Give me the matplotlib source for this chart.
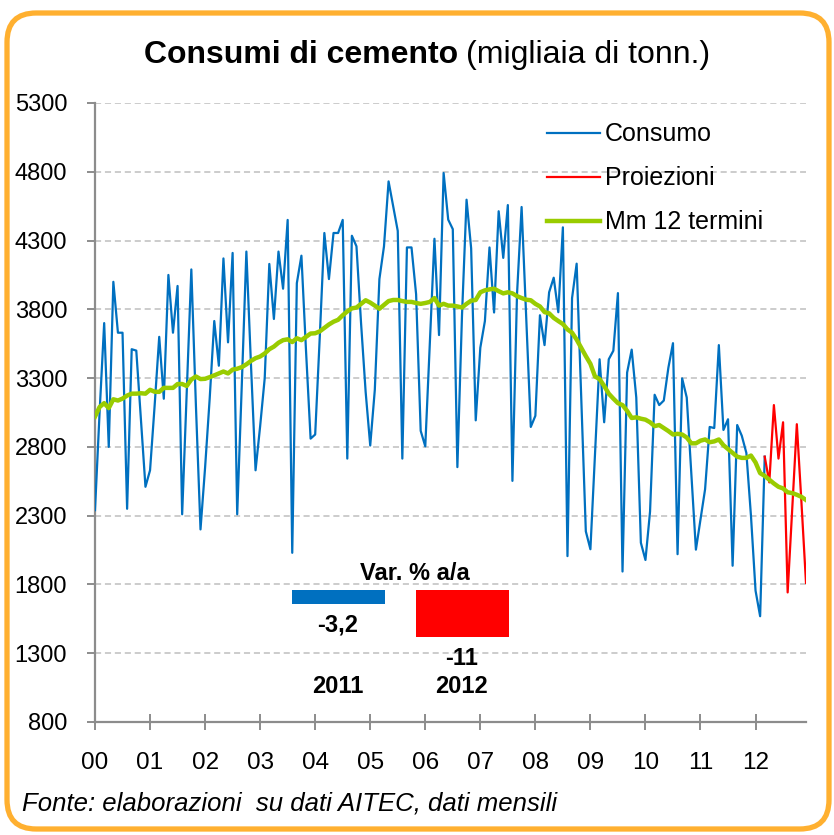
import numpy as np
import matplotlib.pyplot as plt
from matplotlib.patches import FancyBboxPatch
from matplotlib.lines import Line2D
import matplotlib.transforms as mtransforms

plt.rcParams['font.family'] = ['Liberation Sans', 'DejaVu Sans']

# monthly consumption, Jan 2000 .. Mar 2012
consumo = [2340, 3050, 3700, 2800, 4000, 3630, 3630, 2350, 3510, 3500, 3000, 2510,
           2630, 3100, 3600, 3150, 4050, 3630, 3970, 2310, 3200, 4090, 3100, 2200,
           2650, 3150, 3715, 3390, 4170, 3560, 4210, 2310, 3250, 4220, 3400, 2630,
           2950, 3300, 4130, 3730, 4220, 3950, 4450, 2030, 3990, 4190, 3500, 2860,
           2890, 3600, 4355, 4020, 4355, 4355, 4450, 2715, 4335, 4258, 3700, 3200,
           2810, 3215, 4020, 4258, 4730, 4550, 4370, 2715, 4250, 4250, 3910, 2917,
           2804, 3550, 4313, 3613, 4791, 4452, 4383, 2653, 3750, 4597, 4244, 2993,
           3521, 3715, 4250, 3777, 4513, 4174, 4558, 2553, 3910, 4544, 3750, 2945,
           3026, 3757, 3540, 3924, 4030, 3779, 4396, 2006, 3882, 4132, 3150, 2186,
           2056, 2750, 3437, 2979, 3437, 3499, 3918, 1894, 3340, 3507, 3159, 2103,
           1978, 2329, 3179, 3104, 3137, 3376, 3554, 2020, 3298, 3159, 2600, 2053,
           2270, 2492, 2945, 2937, 3540, 2923, 3001, 1936, 2959, 2881, 2756, 2300,
           1755, 1569, 2729]
# projections, Mar 2012 .. Dec 2012
proiezioni = [2729, 2542, 3104, 2715, 2979, 1742, 2350, 2965, 2400, 1811]
# 12-term moving average, Jan 2000 .. Dec 2012
mm12 = [3020, 3090, 3118, 3082, 3146, 3137, 3151, 3173, 3187, 3187, 3190, 3187,
        3215, 3201, 3200, 3229, 3229, 3229, 3257, 3257, 3243, 3290, 3312, 3293,
        3295, 3307, 3320, 3334, 3348, 3334, 3362, 3368, 3380, 3400, 3425, 3445,
        3457, 3479, 3510, 3529, 3557, 3576, 3582, 3562, 3590, 3576, 3600, 3624,
        3626, 3640, 3665, 3690, 3710, 3724, 3757, 3785, 3807, 3813, 3840, 3866,
        3849, 3827, 3804, 3832, 3860, 3868, 3868, 3860, 3854, 3854, 3846, 3840,
        3846, 3854, 3882, 3827, 3840, 3827, 3827, 3821, 3813, 3840, 3863, 3868,
        3924, 3938, 3945, 3950, 3932, 3916, 3924, 3916, 3896, 3882, 3870, 3866,
        3840, 3821, 3780, 3771, 3738, 3715, 3693, 3654, 3630, 3580, 3520, 3460,
        3404, 3312, 3293, 3243, 3187, 3151, 3118, 3104, 3062, 3010, 3015, 3005,
        2998, 2979, 2951, 2959, 2937, 2915, 2890, 2895, 2890, 2868, 2826, 2826,
        2845, 2854, 2834, 2840, 2854, 2812, 2784, 2756, 2729, 2720, 2720, 2737,
        2687, 2609, 2589, 2562, 2534, 2510, 2498, 2470, 2464, 2452, 2437, 2414]
anni = ['00', '01', '02', '03', '04', '05', '06', '07', '08', '09', '10', '11', '12']

var_anni = ['2011', '2012']
var_val = [-3.2, -11.0]
var_lab = ['-3,2', '-11']

blue = '#0070C0'
red = '#FF0000'
green = '#99CC00'
grey = '#8C8C8C'

fig = plt.figure(figsize=(8.34, 8.35), dpi=100)
W, H = 834.0, 835.0

# orange rounded frame
frame = FancyBboxPatch((7 / W, 6 / H), 822 / W, 816 / H,
                       boxstyle='round,pad=0,rounding_size=0.035',
                       transform=fig.transFigure, facecolor='none',
                       edgecolor='#FFB030', linewidth=3.8, zorder=0)
fig.patches.append(frame)

ax = fig.add_axes([95 / W, 1 - 722 / H, 711 / W, 619 / H])
ax.set_facecolor('none')

x_c = np.arange(len(consumo))
x_p = np.arange(len(consumo) - 1, len(consumo) - 1 + len(proiezioni))
x_m = np.arange(len(mm12))

ax.plot(x_c, consumo, color=blue, lw=1.6, zorder=3)
ax.plot(x_p, proiezioni, color=red, lw=1.6, zorder=3)
ax.plot(x_m, mm12, color=green, lw=3.2, zorder=4)

ax.set_ylim(800, 5300)
ax.set_xlim(0, 155)
ax.set_yticks(np.arange(800, 5301, 500))
ax.set_xticks(np.arange(0, 13) * 12)
ax.set_xticklabels(anni)
ax.yaxis.grid(True, color='#BFBFBF', linestyle=(0, (4, 2.5)), lw=1.1)
ax.set_axisbelow(True)
for s in ['top', 'right']:
    ax.spines[s].set_visible(False)
for s in ['left', 'bottom']:
    ax.spines[s].set_color(grey)
    ax.spines[s].set_linewidth(1.6)
ax.tick_params(axis='y', direction='out', length=6, width=1.4, color=grey,
               labelsize=17, pad=14)
ax.tick_params(axis='x', direction='inout', length=11, width=1.4, color=grey,
               labelsize=17.5, pad=16)

handles = [Line2D([], [], color=blue, lw=1.6),
           Line2D([], [], color=red, lw=1.6),
           Line2D([], [], color=green, lw=3.2)]
ax.legend(handles, ['Consumo', 'Proiezioni', 'Mm 12 termini'],
          loc='upper left', bbox_to_anchor=(0.622, 0.985), frameon=False,
          fontsize=18, handlelength=2.1, handletextpad=0.2,
          labelspacing=0.8, borderaxespad=0)

# title
ty = 1 - 55 / H
fig.text(458 / W, ty, 'Consumi di cemento', ha='right', va='center',
         fontsize=23, fontweight='bold')
fig.text(466 / W, ty, '(migliaia di tonn.)', ha='left', va='center',
         fontsize=23)

# inset with yearly change
ins = fig.add_axes([276 / W, 1 - 637 / H, 248 / W, 47 / H])
ins.bar([0, 1], var_val, width=0.75, color=[blue, red])
ins.set_xlim(-0.5, 1.5)
ins.set_ylim(-11, 0)
ins.axis('off')
for i, (v, lab) in enumerate(zip(var_val, var_lab)):
    ins.annotate(lab, (i, v), xytext=(0, -7), textcoords='offset points',
                 ha='center', va='top', fontsize=17, fontweight='bold')
tr = mtransforms.blended_transform_factory(ins.transData, ins.transAxes)
for i, a in enumerate(var_anni):
    ins.text(i, -1.06, a, transform=tr, ha='center', va='center',
             fontsize=17, fontweight='bold')
ins.text(0.62, 1.36, 'Var. % a/a', transform=tr, ha='center', va='center',
         fontsize=17, fontweight='bold')

fig.text(22 / W, 1 - 804 / H, 'Fonte: elaborazioni  su dati AITEC, dati mensili',
         ha='left', va='center', fontsize=18.5, style='italic')

fig.savefig('out.png', dpi=100)
